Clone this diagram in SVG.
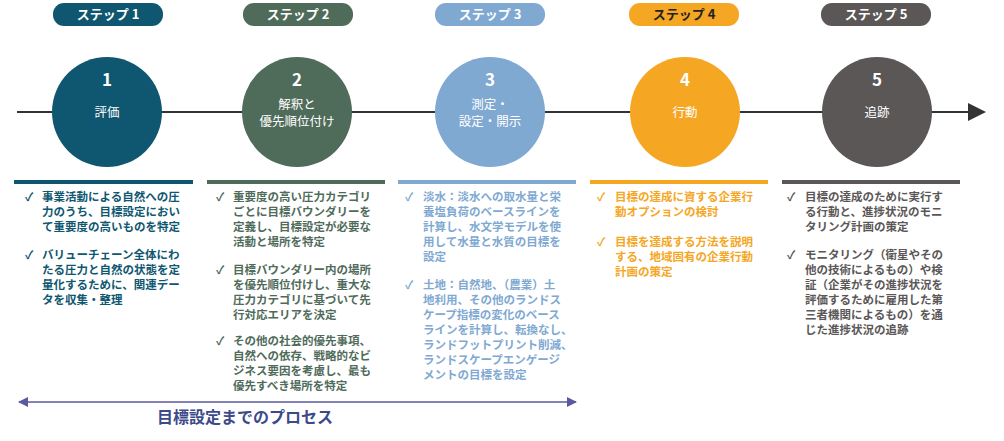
<svg xmlns="http://www.w3.org/2000/svg" width="1004" height="441" viewBox="0 0 1004 441">
<style>
text{font-family:"Noto Sans CJK JP","Noto Sans",sans-serif}
.pill{font-size:13px;font-weight:bold;fill:#fff;text-anchor:middle}
.num{font-size:17px;font-weight:bold;fill:#fff;text-anchor:middle}
.lbl{font-size:12.5px;fill:#fff;text-anchor:middle}
.b{font-size:11.5px;font-weight:bold}
.c1{fill:#0f5770}.c2{fill:#4f6b5a}.c3{fill:#80a9d2}.c4{fill:#f5a623}.c5{fill:#5b5757}
</style>
<defs>
<marker id="ah" markerWidth="10" markerHeight="10" refX="9" refY="5" orient="auto" markerUnits="userSpaceOnUse"><path d="M0,0L10,5L0,10z" fill="#5a5aa0"/></marker>
<marker id="ahs" markerWidth="10" markerHeight="10" refX="1" refY="5" orient="auto" markerUnits="userSpaceOnUse"><path d="M10,0L0,5L10,10z" fill="#5a5aa0"/></marker>
</defs>
<g id="connectors">
<line x1="17" y1="112" x2="968" y2="112" stroke="#333" stroke-width="2"/>
<path d="M968,103L986,112L968,121z" fill="#333"/>
<line x1="19" y1="402" x2="576" y2="402" stroke="#5a5aa0" stroke-width="1.5" marker-start="url(#ahs)" marker-end="url(#ah)"/>
</g>
<g id="step1">
<rect class="c1" x="53" y="3" width="110" height="23" rx="11"/><text class="pill" x="108" y="19">ステップ 1</text>
<circle class="c1" cx="107" cy="112" r="55"/><text class="num" x="107" y="86">1</text><text class="lbl" x="107" y="117">評価</text>
<rect class="c1" x="14" y="180" width="179" height="4"/>
<g class="b c1"><text x="25" y="201">✓</text><text x="42" y="201">事業活動による自然への圧</text><text x="42" y="216">力のうち、目標設定におい</text><text x="42" y="231">て重要度の高いものを特定</text>
<text x="25" y="259">✓</text><text x="42" y="259">バリューチェーン全体にわ</text><text x="42" y="274">たる圧力と自然の状態を定</text><text x="42" y="289">量化するために、関連デー</text><text x="42" y="304">タを収集・整理</text></g>
</g>
<g id="step2">
<rect class="c2" x="243" y="3" width="110" height="23" rx="11"/><text class="pill" x="298" y="19">ステップ 2</text>
<circle class="c2" cx="297" cy="112" r="55"/><text class="num" x="297" y="86">2</text><text class="lbl" x="297" y="109">解釈と</text><text class="lbl" x="297" y="126">優先順位付け</text>
<rect class="c2" x="207" y="180" width="178" height="4"/>
<g class="b c2"><text x="216" y="201">✓</text><text x="233" y="201">重要度の高い圧力カテゴリ</text><text x="233" y="216">ごとに目標バウンダリーを</text><text x="233" y="231">定義し、目標設定が必要な</text><text x="233" y="246">活動と場所を特定</text>
<text x="216" y="274">✓</text><text x="233" y="274">目標バウンダリー内の場所</text><text x="233" y="289">を優先順位付けし、重大な</text><text x="233" y="304">圧力カテゴリに基づいて先</text><text x="233" y="319">行対応エリアを決定</text>
<text x="216" y="345">✓</text><text x="233" y="345">その他の社会的優先事項、</text><text x="233" y="360">自然への依存、戦略的なビ</text><text x="233" y="375">ジネス要因を考慮し、最も</text><text x="233" y="390">優先すべき場所を特定</text></g>
</g>
<g id="step3">
<rect class="c3" x="435" y="3" width="110" height="23" rx="11"/><text class="pill" x="490" y="19">ステップ 3</text>
<circle class="c3" cx="490" cy="112" r="55"/><text class="num" x="490" y="86">3</text><text class="lbl" x="490" y="109">測定・</text><text class="lbl" x="490" y="126">設定・開示</text>
<rect class="c3" x="398" y="180" width="178" height="4"/>
<g class="b c3"><text x="405" y="201">✓</text><text x="423" y="201">淡水：淡水への取水量と栄</text><text x="423" y="216">養塩負荷のベースラインを</text><text x="423" y="231">計算し、水文学モデルを使</text><text x="423" y="246">用して水量と水質の目標を</text><text x="423" y="261">設定</text>
<text x="405" y="289">✓</text><text x="423" y="289">土地：自然地、（農業）土</text><text x="423" y="304">地利用、その他のランドス</text><text x="423" y="319">ケープ指標の変化のベース</text><text x="423" y="334">ラインを計算し、転換なし、</text><text x="423" y="349">ランドフットプリント削減、</text><text x="423" y="364">ランドスケープエンゲージ</text><text x="423" y="379">メントの目標を設定</text></g>
</g>
<g id="step4">
<rect class="c4" x="629" y="3" width="110" height="23" rx="11"/><text class="pill" x="684" y="19" fill="#222" style="fill:#222">ステップ 4</text>
<circle class="c4" cx="685" cy="112" r="55"/><text class="num" x="685" y="86">4</text><text class="lbl" x="685" y="117">行動</text>
<rect class="c4" x="590" y="180" width="178" height="4"/>
<g class="b c4"><text x="597" y="201">✓</text><text x="615" y="201">目標の達成に資する企業行</text><text x="615" y="216">動オプションの検討</text>
<text x="597" y="246">✓</text><text x="615" y="246">目標を達成する方法を説明</text><text x="615" y="261">する、地域固有の企業行動</text><text x="615" y="276">計画の策定</text></g>
</g>
<g id="step5">
<rect class="c5" x="821" y="3" width="110" height="23" rx="11"/><text class="pill" x="876" y="19">ステップ 5</text>
<circle class="c5" cx="877" cy="112" r="55"/><text class="num" x="877" y="86">5</text><text class="lbl" x="877" y="117">追跡</text>
<rect class="c5" x="782" y="180" width="178" height="4"/>
<g class="b c5"><text x="787" y="201">✓</text><text x="805" y="201">目標の達成のために実行す</text><text x="805" y="216">る行動と、進捗状況のモニ</text><text x="805" y="231">タリング計画の策定</text>
<text x="787" y="259">✓</text><text x="805" y="259">モニタリング（衛星やその</text><text x="805" y="274">他の技術によるもの）や検</text><text x="805" y="289">証（企業がその進捗状況を</text><text x="805" y="304">評価するために雇用した第</text><text x="805" y="319">三者機関によるもの）を通</text><text x="805" y="334">じた進捗状況の追跡</text></g>
</g>
<text x="245" y="423" font-size="16" font-weight="bold" fill="#3d4a8a" text-anchor="middle">目標設定までのプロセス</text>
</svg>
